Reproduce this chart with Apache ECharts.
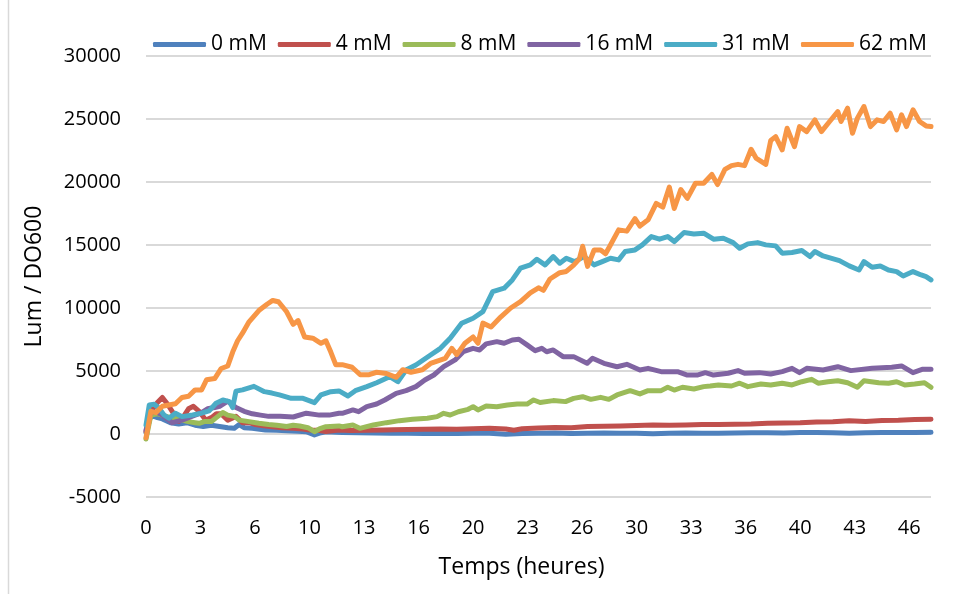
<!DOCTYPE html>
<html>
<head>
<meta charset="utf-8">
<title>Lum / DO600</title>
<script src="https://cdn.jsdelivr.net/npm/echarts@6/dist/echarts.min.js"></script>
<style>
    html, body { margin: 0; padding: 0; background: #fff; }
    #main { width: 954px; height: 594px; }
</style>
</head>
<body>
<div id="main"></div>
<script>
// legend names
var seriesNames = ['0 mM', '4 mM', '8 mM', '16 mM', '31 mM', '62 mM'];
var seriesColors = ['#4F81BD', '#C0504D', '#9BBB59', '#8064A2', '#4BACC6', '#F79646'];

// [heures, Lum / DO600]
var mM0 = [[0, 100], [0.3, 1500], [0.7, 1300], [1.0, 1200], [1.5, 900], [2.0, 800], [2.5, 900], [3.0, 700], [3.5, 600],
    [4.0, 700], [4.5, 600], [5.0, 500], [5.4, 450], [5.7, 750], [6.0, 500], [6.5, 450], [7.3, 320], [8.0, 300], [8.6, 260],
    [9.3, 220], [9.8, 180], [10.3, -80], [10.7, 100], [11.0, 180], [12, 120], [13, 100], [14, 80], [15, 50], [16, 60],
    [17, 40], [18, 60], [19, 30], [20, 50], [21, 60], [22, -20], [23, 40], [24, 60], [25, 70], [26, 40], [27, 60], [28, 80],
    [29, 50], [30, 60], [31, 20], [32, 60], [33, 80], [34, 60], [35, 50], [36, 70], [37, 100], [38, 90], [39, 70], [40, 110],
    [41, 120], [42, 90], [43, 60], [44, 100], [45, 120], [46, 110], [47, 120], [48, 130]];

var mM4 = [[0, 200], [0.3, 1800], [0.7, 2500], [1.0, 2900], [1.3, 2400], [1.6, 1800], [2.0, 1000], [2.3, 1400], [2.6, 2000],
    [2.9, 2200], [3.25, 1800], [3.66, 1100], [4.0, 1300], [4.3, 1600], [4.6, 1600], [5.0, 1100], [5.5, 1400], [5.9, 900],
    [6.3, 900], [6.7, 750], [7.2, 650], [7.75, 580], [8.3, 500], [9.0, 450], [9.6, 400], [10.0, 320], [10.5, 300], [11.0, 200],
    [11.8, 320], [12.5, 280], [13.5, 300], [14.5, 320], [15.1, 330], [16, 360], [17, 380], [18, 400], [19, 380], [20, 420],
    [21, 450], [22, 400], [22.5, 300], [23, 420], [24, 480], [25, 520], [26, 500], [27, 600], [28, 620], [29, 640], [30, 680],
    [31, 710], [32, 700], [33, 720], [34, 760], [35, 750], [36, 780], [37, 800], [38, 850], [39, 880], [40, 900], [41, 950],
    [42, 980], [43, 1060], [44, 1000], [45, 1080], [46, 1100], [47, 1150], [48, 1170]];

var mM8 = [[0, -400], [0.3, 1500], [0.7, 1600], [1.0, 1500], [1.5, 1300], [2.0, 1200], [2.5, 1000], [3.0, 900], [3.25, 850],
    [3.6, 1000], [4.0, 1000], [4.3, 1300], [4.7, 1700], [5.0, 1500], [5.4, 1400], [5.7, 1100], [6.3, 980], [6.9, 850],
    [7.5, 750], [8.0, 700], [8.6, 600], [9.0, 700], [9.4, 640], [9.9, 500], [10.3, 180], [10.6, 400], [11.0, 580], [11.8, 640],
    [12.0, 580], [12.65, 710], [13.07, 450], [13.9, 710], [14.7, 900], [15.5, 1060], [16.3, 1170], [17.2, 1250], [17.8, 1380],
    [18.2, 1640], [18.6, 1510], [19.1, 1770], [19.7, 1960], [20.0, 2170], [20.3, 1910], [20.8, 2220], [21.45, 2170],
    [22.1, 2300], [22.7, 2380], [23.3, 2380], [23.7, 2700], [24.1, 2500], [24.9, 2650], [25.65, 2570], [26.15, 2830],
    [26.7, 2960], [27.2, 2750], [27.8, 2910], [28.3, 2750], [28.8, 3100], [29.6, 3440], [30.2, 3180], [30.7, 3440],
    [31.5, 3440], [31.9, 3710], [32.3, 3490], [32.8, 3710], [33.5, 3570], [34.1, 3760], [34.5, 3810], [35.0, 3890],
    [35.8, 3810], [36.3, 4030], [36.8, 3760], [37.6, 3970], [38.2, 3890], [38.9, 4030], [39.5, 3890], [40.1, 4150],
    [40.7, 4340], [41.1, 4030], [41.7, 4150], [42.3, 4230], [42.9, 4070], [43.5, 3710], [43.9, 4230], [44.8, 4070],
    [45.4, 4030], [45.9, 4150], [46.4, 3890], [47.0, 3970], [47.6, 4070], [48.0, 3710]];

var mM16 = [[0, 300], [0.3, 1800], [0.7, 1700], [1.0, 1500], [1.6, 900], [2.2, 1100], [2.6, 1300], [3.0, 1500], [3.4, 1700],
    [3.76, 2000], [4.2, 2100], [4.5, 2200], [5.0, 2600], [5.5, 2100], [6.0, 1800], [6.5, 1600], [7.0, 1500], [7.5, 1400],
    [8.2, 1400], [9.0, 1350], [9.8, 1650], [10.6, 1500], [11.2, 1500], [11.8, 1650], [12.0, 1640], [12.65, 1910],
    [13.0, 1770], [13.5, 2170], [14.1, 2380], [14.6, 2700], [15.3, 3230], [15.9, 3440], [16.5, 3760], [17.05, 4290],
    [17.6, 4680], [18.2, 5340], [18.9, 5880], [19.4, 6530], [20.0, 6800], [20.4, 6670], [20.8, 7150], [21.45, 7330],
    [21.9, 7200], [22.4, 7460], [22.8, 7520], [23.3, 7070], [23.8, 6610], [24.2, 6800], [24.5, 6530], [24.9, 6670],
    [25.5, 6140], [26.15, 6140], [26.97, 5610], [27.3, 6010], [28.0, 5610], [28.8, 5340], [29.4, 5530], [30.2, 5080],
    [30.7, 5210], [31.5, 4950], [32.5, 4950], [33.1, 4680], [33.7, 4680], [34.2, 4870], [34.7, 4680], [35.6, 4820],
    [36.2, 5030], [36.6, 4820], [37.5, 4870], [38.2, 4760], [38.9, 4950], [39.5, 5210], [39.96, 4870], [40.4, 5210],
    [41.4, 5080], [42.3, 5340], [43.1, 5030], [44.4, 5210], [45.6, 5290], [46.2, 5400], [46.9, 4870], [47.5, 5140],
    [48.0, 5140]];

var mM31 = [[0, 700], [0.2, 2300], [0.5, 2360], [0.8, 2040], [1.1, 1510], [1.4, 1250], [1.8, 1640], [2.2, 1380],
    [2.85, 1510], [3.35, 1640], [3.86, 1830], [4.28, 2440], [4.7, 2700], [5.1, 2570], [5.3, 2100], [5.5, 3400], [5.9, 3500],
    [6.6, 3780], [7.24, 3360], [7.7, 3250], [8.16, 3100], [8.88, 2830], [9.6, 2830], [10.3, 2490], [10.7, 3100],
    [11.3, 3360], [11.8, 3420], [12.35, 3020], [12.8, 3440], [13.5, 3760], [14.1, 4070], [14.9, 4550], [15.4, 4150],
    [15.9, 5080], [16.5, 5480], [17.4, 6270], [18.0, 6800], [18.6, 7600], [19.3, 8790], [20.0, 9190], [20.6, 9710],
    [21.2, 11300], [21.9, 11570], [22.4, 12230], [22.9, 13160], [23.5, 13420], [23.9, 13870], [24.4, 13420], [24.9, 14080],
    [25.3, 13550], [25.7, 13950], [26.2, 13680], [26.8, 14080], [27.4, 13420], [27.9, 13680], [28.4, 13950], [28.9, 13820],
    [29.3, 14480], [29.9, 14610], [30.35, 15010], [30.9, 15670], [31.4, 15460], [31.9, 15670], [32.3, 15270], [32.9, 15990],
    [33.5, 15880], [34.1, 15940], [34.7, 15460], [35.3, 15540], [35.9, 15190], [36.3, 14740], [36.8, 15090], [37.4, 15190],
    [37.9, 15010], [38.5, 14930], [38.9, 14350], [39.5, 14400], [40.1, 14560], [40.6, 14080], [40.9, 14480], [41.4, 14130],
    [42.4, 13760], [43.0, 13340], [43.6, 13020], [43.9, 13680], [44.4, 13230], [44.9, 13340], [45.4, 13020], [45.9, 12890],
    [46.3, 12540], [46.9, 12890], [47.4, 12620], [47.7, 12490], [48.0, 12230]];

var mM62 = [[0, -300], [0.3, 1800], [0.6, 1700], [1.0, 2200], [1.4, 2300], [1.8, 2400], [2.2, 2900], [2.6, 3000],
    [3.0, 3500], [3.4, 3500], [3.7, 4300], [4.2, 4400], [4.6, 5200], [5.0, 5400], [5.3, 6500], [5.6, 7400], [5.9, 8000],
    [6.3, 8900], [6.9, 9800], [7.4, 10300], [7.75, 10600], [8.1, 10500], [8.6, 9700], [9.0, 8700], [9.3, 9000], [9.7, 7700],
    [10.2, 7600], [10.7, 7200], [11.0, 7400], [11.3, 6500], [11.6, 5500], [12.0, 5500], [12.6, 5300], [13.1, 4700],
    [13.6, 4700], [14.1, 4900], [14.7, 4800], [15.3, 4500], [15.7, 5100], [16.2, 4900], [16.9, 5100], [17.4, 5600],
    [18.3, 6000], [18.7, 6800], [19.0, 6300], [19.5, 7200], [20.0, 7700], [20.3, 7200], [20.6, 8800], [21.1, 8500],
    [21.7, 9300], [22.3, 10000], [22.9, 10500], [23.5, 11200], [24.0, 11600], [24.3, 11400], [24.7, 12300], [25.3, 12800],
    [25.7, 12900], [26.15, 13400], [26.5, 13900], [26.7, 14900], [27.0, 13300], [27.4, 14600], [27.8, 14600], [28.1, 14300],
    [28.4, 15000], [28.9, 16200], [29.4, 16100], [29.9, 17100], [30.2, 16500], [30.7, 17000], [31.2, 18300], [31.6, 18000],
    [32.0, 19600], [32.3, 17900], [32.7, 19400], [33.1, 18700], [33.6, 19900], [34.1, 19900], [34.6, 20600], [34.95, 19800],
    [35.4, 21000], [35.8, 21300], [36.2, 21400], [36.6, 21300], [37.0, 22600], [37.3, 21900], [37.9, 21400], [38.2, 23300],
    [38.5, 23600], [38.9, 22550], [39.2, 24270], [39.65, 22810], [39.96, 24400], [40.4, 24000], [40.9, 24930], [41.3, 24000],
    [41.8, 24800], [42.3, 25590], [42.5, 24800], [42.9, 25860], [43.2, 23870], [43.5, 25070], [43.9, 25990], [44.3, 24400],
    [44.7, 24930], [45.1, 24800], [45.5, 25460], [45.9, 24140], [46.2, 25330], [46.5, 24400], [46.9, 25730], [47.3, 24800],
    [47.7, 24450], [48.0, 24400]];

var seriesData = [mM0, mM4, mM8, mM16, mM31, mM62];

var myChart = echarts.init(document.getElementById('main'));
var fontName = 'Open Sans';

var series = seriesNames.map(function(name, i) {
    return {
        name: name,
        type: 'line',
        data: seriesData[i],
        symbol: 'none',
        smooth: false,
        color: seriesColors[i],
        lineStyle: { width: 5, color: seriesColors[i], join: 'round', cap: 'round' },
        emphasis: { disabled: true }
    };
});

var option = {
    animation: false,
    backgroundColor: '#fff',
    textStyle: { fontFamily: fontName, color: '#000' },
    legend: {
        data: seriesNames,
        left: 148,
        top: 29,
        icon: 'roundRect',
        itemWidth: 53,
        itemHeight: 5,
        itemGap: 11,
        textStyle: { fontFamily: fontName, fontSize: 21, color: '#000' }
    },
    grid: { left: 146, right: 23, top: 56, bottom: 97 },
    xAxis: {
        type: 'value',
        min: 0,
        max: 48,
        interval: 10 / 3,
        name: 'Temps (heures)',
        nameLocation: 'middle',
        nameGap: 59,
        nameTextStyle: { fontFamily: fontName, fontSize: 23, color: '#000', padding: [0, 34, 0, 0] },
        axisLine: { show: false, onZero: false },
        axisTick: { show: false },
        splitLine: { show: false },
        axisLabel: {
            fontFamily: fontName, fontSize: 20, color: '#000', margin: 21,
            showMaxLabel: false,
            formatter: function(v) { return String(Math.floor(v + 0.01)); }
        }
    },
    yAxis: {
        type: 'value',
        min: -5000,
        max: 30000,
        interval: 5000,
        name: 'Lum / DO600',
        nameLocation: 'middle',
        nameGap: 100,
        nameTextStyle: { fontFamily: fontName, fontSize: 23, color: '#000' },
        axisLine: { show: false },
        axisTick: { show: false },
        axisLabel: {
            fontFamily: fontName, fontSize: 20, color: '#000', margin: 25,
            formatter: function(v) { return String(v); }
        },
        splitLine: { lineStyle: { color: '#d9d9d9', width: 2 } }
    },
    graphic: [{
        type: 'line',
        shape: { x1: 8.5, y1: 0, x2: 8.5, y2: 594 },
        style: { stroke: '#d9d9d9', lineWidth: 1.5 }
    }],
    series: series
};
myChart.setOption(option);
</script>
</body>
</html>
